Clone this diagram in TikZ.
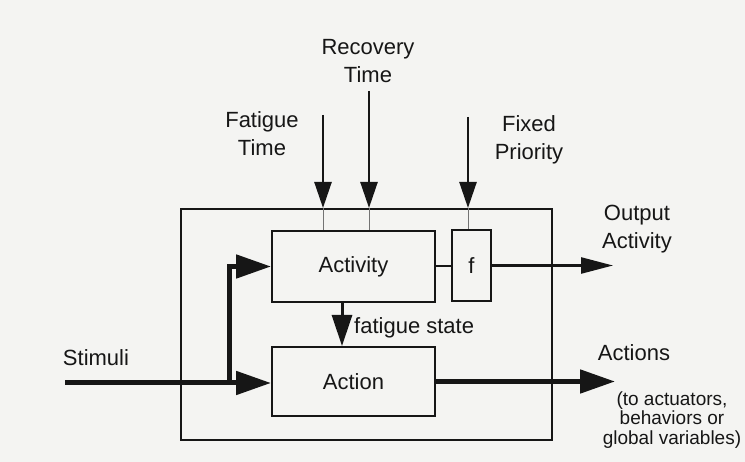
\documentclass[tikz,border=0pt]{standalone}
\usepackage{fontspec}
\setmainfont{Liberation Sans}
\usetikzlibrary{arrows.meta}
\definecolor{ink}{HTML}{161616}
\definecolor{paper}{HTML}{F4F4F2}
\begin{document}
\begin{tikzpicture}[x=1pt,y=-1pt,
  lbl/.style={font=\fontsize{22}{28}\selectfont, text=ink, align=center, inner sep=0pt},
  small/.style={font=\fontsize{19}{19.5}\selectfont, text=ink, align=center, inner sep=0pt},
  box/.style={draw=ink, line width=2pt, fill=paper, font=\fontsize{22}{28}\selectfont, text=ink, inner sep=0pt},
  thinbox/.style={draw=ink, line width=1.1pt, fill=paper, font=\fontsize{22}{28}\selectfont, text=ink, inner sep=0pt},
  inarrow/.style={draw=ink, line width=2.5pt, -{Triangle[length=26pt,width=17pt]}},
  midarrow/.style={draw=ink, line width=2.5pt, -{Triangle[length=32pt,width=16pt]}},
  fsarrow/.style={draw=ink, line width=3pt, -{Triangle[length=31pt,width=20pt]}},
  bigarrow/.style={draw=ink, line width=5pt, -{Triangle[length=35pt,width=23pt]}},
  link/.style={draw=ink, line width=2pt},
  hair/.style={draw=ink!60, line width=0.6pt}
]
\fill[paper] (0,0) rectangle (745,462);
\useasboundingbox (0,0) rectangle (745,462);

% boxes
\node[draw=ink, line width=2pt, minimum width=371pt, minimum height=231pt, inner sep=0pt] (outer) at (366.5,324.5) {};
\node[box, minimum width=163pt, minimum height=71pt] (act) at (353.5,266.5) {Activity};
\node[thinbox, minimum width=39pt, minimum height=71pt] (f) at (471.5,265.5) {f};
\node[box, minimum width=163pt, minimum height=69pt] (action) at (353.5,381.5) {Action};

% coordinates
\coordinate (ftop) at (323,115);
\coordinate (rtop) at (369,91);
\coordinate (ptop) at (468,117);
\coordinate (fin) at (outer.north -| ftop);
\coordinate (rin) at (outer.north -| rtop);
\coordinate (pin) at (outer.north -| ptop);
\coordinate (fsx) at (342,0);
\coordinate (stim) at (65,383);
\coordinate (fb) at (229,383);
\coordinate (outA) at (613,265.5);
\coordinate (outB) at (615,381.5);

% input arrows
\draw[inarrow] (ftop) -- (fin);
\draw[inarrow] (rtop) -- (rin);
\draw[inarrow] (ptop) -- (pin);
\draw[hair] (fin) -- (fin |- act.north);
\draw[hair] (rin) -- (rin |- act.north);
\draw[hair] (pin) -- (pin |- f.north);

% activity path
\draw[link] (act.east) -- (act.east -| f.west);
\draw[midarrow] (f.east) -- (outA);
\draw[fsarrow] (act.south -| fsx) -- (action.north -| fsx);

% stimuli and actions
\draw[bigarrow] (stim) -- (stim -| action.west);
\draw[bigarrow] (fb) |- (act.west);
\draw[bigarrow] (action.east) -- (outB);

% labels
\node[lbl] (lrec) at (368,61) {Recovery\\Time};
\node[lbl] (lfat) at (262,134) {Fatigue\\Time};
\node[lbl] (lfix) at (529,140) {Fixed\\Priority};
\node[lbl] (lout) at (637,229) {Output\\Activity};
\node[lbl] (lstim) at (96,358) {Stimuli};
\node[lbl] (lacts) at (634,353) {Actions};
\node[small] (lsub) at (672,420) {(to actuators,\\behaviors or\\global variables)};
\node[lbl, anchor=west] (lfs) at (354,328) {fatigue state};
\end{tikzpicture}
\end{document}
